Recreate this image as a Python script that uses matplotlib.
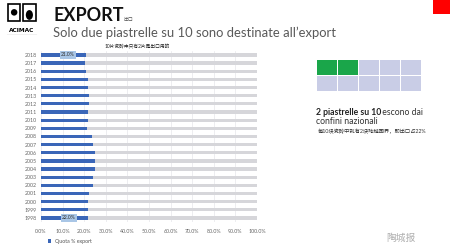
import matplotlib.pyplot as plt
import matplotlib.patches as patches
import numpy as np

plt.rcParams['font.family'] = ['Lato', 'Noto Sans CJK SC', 'DejaVu Sans']

years = [str(y) for y in range(2018, 1997, -1)]
quota = [21.0, 20.2, 20.8, 21.9, 21.6, 22.2, 22.4, 21.9, 21.9, 21.3, 23.5,
         24.1, 24.8, 25.0, 25.0, 24.3, 24.3, 22.4, 21.6, 21.9, 22.0]
xticks = np.arange(0, 101, 10)
labelled = {"2018": "21.0%", "1998": "22.0%"}

squares_on = 2
squares_total = 10

BLUE = "#3a66b8"
GREY = "#d6d6da"


def main():
    fig = plt.figure(figsize=(4.5, 2.52), dpi=100)

    # --- header ---
    fig.text(0.118, 0.918, "EXPORT", fontsize=13, fontweight="bold",
             color="#111111", va="baseline")
    fig.text(0.274, 0.918, "出口", fontsize=3.5, color="#555555", va="baseline")
    fig.text(0.118, 0.855, "Solo due piastrelle su 10 sono destinate all\u2019export",
             fontsize=9.4, color="#595959", va="baseline")
    fig.text(0.305, 0.808, "10片瓷砖中只有2片是出口用的", fontsize=3.4,
             color="#222222", va="baseline", ha="center")

    # logo (rough)
    ax_logo = fig.add_axes([0.012, 0.86, 0.072, 0.13])
    ax_logo.set_xlim(0, 1)
    ax_logo.set_ylim(0, 1)
    ax_logo.axis("off")
    ax_logo.add_patch(patches.Rectangle((0.08, 0.45), 0.38, 0.5, fc="none",
                                        ec="black", lw=1.2))
    ax_logo.add_patch(patches.Circle((0.27, 0.7), 0.1, fc="black"))
    ax_logo.add_patch(patches.Rectangle((0.55, 0.45), 0.38, 0.5, fc="none",
                                        ec="black", lw=1.2))
    ax_logo.add_patch(patches.Ellipse((0.74, 0.62), 0.22, 0.3, fc="black"))
    ax_logo.text(0.5, 0.14, "ACIMAC", fontsize=4.2, fontweight="bold",
                 ha="center", va="center", family="DejaVu Sans")
    ax_logo.plot([0.05, 0.95], [0.02, 0.02], color="black", lw=0.8)

    # red corner square
    fig.add_artist(patches.Rectangle((0.962, 0.944), 0.038, 0.056,
                                     transform=fig.transFigure,
                                     fc="#ff0000", ec="none"))

    # --- bar chart ---
    ax = fig.add_axes([0.091, 0.119, 0.48, 0.679])
    y = np.arange(len(years))
    ax.barh(y, [100] * len(years), height=0.4, color=GREY, zorder=2)
    ax.barh(y, quota, height=0.4, color=BLUE, zorder=3, label="Quota % export")
    for i, yr in enumerate(years):
        if yr in labelled:
            ax.text(quota[i] / 2 + 2, i, labelled[yr], fontsize=3.6,
                    ha="center", va="center", color="#333333", zorder=4,
                    bbox=dict(boxstyle="square,pad=0.25", fc="#a9c6e6",
                              ec="none"))
    ax.set_ylim(len(years) - 0.5, -0.5)
    ax.set_xlim(0, 100)
    ax.set_yticks(y)
    ax.set_yticklabels(years)
    ax.set_xticks(xticks)
    ax.set_xticklabels([f"{v:.1f}%" for v in xticks])
    ax.tick_params(axis="both", labelsize=3.8, colors="#666666", length=0,
                   pad=3)
    ax.tick_params(axis="x", pad=5)
    ax.grid(axis="x", color="#e6e6ea", lw=0.5, zorder=0)
    for s in ax.spines.values():
        s.set_visible(False)
    ax.legend(loc="upper left", bbox_to_anchor=(0.01, -0.07), frameon=False,
              fontsize=3.8, handlelength=0.6, handleheight=0.6,
              labelcolor="#555555")

    # --- squares block ---
    ax_sq = fig.add_axes([0.702, 0.635, 0.236, 0.13])
    ax_sq.set_xlim(0, 5)
    ax_sq.set_ylim(0, 2)
    ax_sq.axis("off")
    for k in range(squares_total):
        r, c = divmod(k, 5)
        col = "#1aa64a" if k < squares_on else "#c9cde6"
        ax_sq.add_patch(patches.Rectangle((c + 0.03, 1 - r + 0.04), 0.94, 0.92,
                                          fc=col, ec="none"))

    fig.text(0.702, 0.545, "2 piastrelle su 10", fontsize=6.2,
             fontweight="bold", color="#222222", va="baseline")
    fig.text(0.845, 0.545, " escono dai", fontsize=6.2, color="#333333",
             va="baseline")
    fig.text(0.702, 0.508, "confini nazionali", fontsize=6.2, color="#333333",
             va="baseline")
    fig.text(0.706, 0.472, "每10块瓷砖中就有2块跨越国界，即出口占22%", fontsize=3.8,
             color="#333333", va="baseline")

    # watermark
    fig.text(0.89, 0.055, "陶城报", fontsize=7, color="#9a9a9a",
             ha="center", va="center", alpha=0.8)

    fig.savefig("out.png", dpi=100)


if __name__ == "__main__":
    main()
